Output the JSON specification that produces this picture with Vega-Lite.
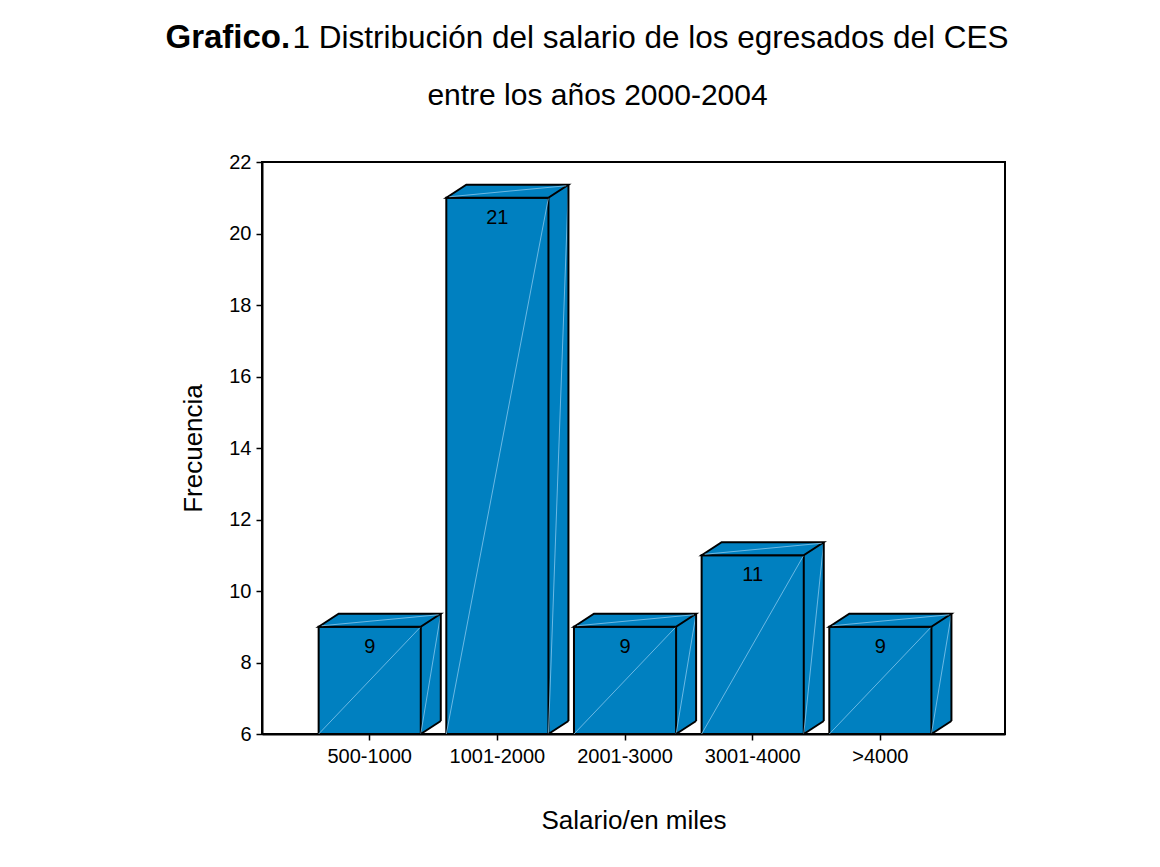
{
  "$schema": "https://vega.github.io/schema/vega-lite/v6.json",
  "width": 743,
  "height": 572,
  "autosize": "none",
  "padding": {"left": 262, "top": 162, "right": 155, "bottom": 133},
  "background": "white",
  "title": {
    "text": "entre los años 2000-2004",
    "font": "Liberation Sans",
    "fontSize": 30,
    "fontWeight": "normal",
    "color": "black",
    "anchor": "middle",
    "frame": "group",
    "baseline": "alphabetic",
    "offset": -114,
    "dx": -36
  },
  "data": {
    "values": [
      {"salario": "500-1000", "frecuencia": 9},
      {"salario": "1001-2000", "frecuencia": 21},
      {"salario": "2001-3000", "frecuencia": 9},
      {"salario": "3001-4000", "frecuencia": 11},
      {"salario": ">4000", "frecuencia": 9}
    ]
  },
  "encoding": {
    "x": {
      "field": "salario", "type": "nominal", "sort": null, "axis": null,
      "scale": {"paddingInner": 0.2, "paddingOuter": 0.51, "align": 0.435}
    },
    "y": {
      "field": "frecuencia", "type": "quantitative", "axis": null,
      "scale": {"domain": [6, 22], "zero": false, "nice": false}
    }
  },
  "resolve": {"axis": {"x": "independent", "y": "independent"}},
  "layer": [
    {
      "mark": {"type": "bar", "fill": "#0080C0", "strokeWidth": 0, "xOffset": 20, "yOffset": -13, "y2Offset": -13},
      "encoding": {"y2": {"datum": 6}}
    },
    {
      "mark": {"type": "point", "shape": "M0,0L20,-13L0,-13Z", "size": 4, "filled": true, "fill": "#0080C0", "strokeWidth": 0, "opacity": 1},
      "encoding": {
        "x": {"field": "salario", "type": "nominal", "sort": null, "bandPosition": 1, "axis": null},
        "y": {"datum": 6, "type": "quantitative", "axis": null}
      }
    },
    {
      "mark": {"type": "bar", "fill": "#0080C0", "stroke": "black", "strokeWidth": 2},
      "encoding": {
        "x": {
          "field": "salario", "type": "nominal", "sort": null, "title": "Salario/en miles",
          "axis": {
            "orient": "bottom", "domainColor": "black", "domainWidth": 2, "tickColor": "black", "tickWidth": 1.5,
            "tickSize": 6, "labelFont": "Liberation Sans", "labelFontSize": 20, "labelColor": "black",
            "labelPadding": 6, "labelAngle": 0, "grid": false,
            "titleFont": "Liberation Sans", "titleFontSize": 26, "titleFontWeight": "normal", "titleColor": "black",
            "titleBaseline": "alphabetic", "titleY": 94
          }
        },
        "y": {
          "field": "frecuencia", "type": "quantitative", "title": "Frecuencia",
          "axis": {
            "orient": "left", "values": [6, 8, 10, 12, 14, 16, 18, 20, 22],
            "domainColor": "black", "domainWidth": 2, "tickColor": "black", "tickWidth": 1.5,
            "tickSize": 6, "labelFont": "Liberation Sans", "labelFontSize": 20, "labelColor": "black",
            "labelPadding": 5, "grid": false,
            "titleFont": "Liberation Sans", "titleFontSize": 26, "titleFontWeight": "normal", "titleColor": "black",
            "titleBaseline": "alphabetic", "titleX": -61
          }
        },
        "y2": {"datum": 6}
      }
    },
    {
      "mark": {"type": "rule", "stroke": "#86c6ec", "strokeWidth": 0.8},
      "encoding": {
        "x": {"field": "salario", "type": "nominal", "sort": null, "bandPosition": 0, "axis": null},
        "y": {"datum": 6, "type": "quantitative", "axis": null},
        "x2": {"field": "salario", "bandPosition": 1},
        "y2": {"field": "frecuencia"}
      }
    },
    {
      "mark": {"type": "rule", "stroke": "#86c6ec", "strokeWidth": 0.8, "x2Offset": 20, "y2Offset": -13},
      "encoding": {
        "x": {"field": "salario", "type": "nominal", "sort": null, "bandPosition": 1, "axis": null},
        "y": {"datum": 6, "type": "quantitative", "axis": null},
        "x2": {"field": "salario", "bandPosition": 1},
        "y2": {"field": "frecuencia"}
      }
    },
    {
      "mark": {"type": "point", "shape": "M0,0L20,-13L122,-13L102,0Z", "size": 4, "filled": true, "fill": "#0080C0", "stroke": "black", "strokeWidth": 2, "opacity": 1},
      "encoding": {
        "x": {"field": "salario", "type": "nominal", "sort": null, "bandPosition": 0, "axis": null}
      }
    },
    {
      "mark": {"type": "point", "shape": "M3,-1L120,-12", "size": 4, "filled": false, "stroke": "#86c6ec", "strokeWidth": 0.8, "opacity": 1},
      "encoding": {
        "x": {"field": "salario", "type": "nominal", "sort": null, "bandPosition": 0, "axis": null}
      }
    },
    {
      "mark": {"type": "rule", "stroke": "black", "strokeWidth": 2, "xOffset": 20, "yOffset": -13, "y2Offset": -13},
      "encoding": {
        "x": {"field": "salario", "type": "nominal", "sort": null, "bandPosition": 1, "axis": null},
        "y2": {"datum": 6}
      }
    },
    {
      "mark": {"type": "point", "shape": "M0,0L20,-13", "size": 4, "filled": false, "stroke": "black", "strokeWidth": 2, "opacity": 1},
      "encoding": {
        "x": {"field": "salario", "type": "nominal", "sort": null, "bandPosition": 1, "axis": null},
        "y": {"datum": 6, "type": "quantitative", "axis": null}
      }
    },
    {
      "mark": {"type": "text", "dy": 20, "baseline": "middle", "align": "center", "font": "Liberation Sans", "fontSize": 20, "color": "black"},
      "encoding": {
        "text": {"field": "frecuencia", "type": "quantitative"},
        "x": {
          "field": "salario", "type": "nominal", "sort": null, "title": "Grafico.",
          "axis": {
            "orient": "top", "domain": false, "ticks": false, "labels": false, "grid": false,
            "titleFont": "Liberation Sans", "titleFontSize": 33, "titleFontWeight": "bold", "titleColor": "black",
            "titleAngle": 0, "titleAlign": "left", "titleBaseline": "alphabetic", "titleX": -97, "titleY": -115
          }
        },
        "y": {
          "field": "frecuencia", "type": "quantitative", "title": "1 Distribución del salario de los egresados del CES",
          "axis": {
            "orient": "right", "domain": false, "ticks": false, "labels": false, "grid": false,
            "titleFont": "Liberation Sans", "titleFontSize": 31.5, "titleFontWeight": "normal", "titleColor": "black",
            "titleAngle": 0, "titleAlign": "left", "titleBaseline": "alphabetic", "titleX": -713, "titleY": -115
          }
        }
      }
    }
  ],
  "config": {
    "view": {"stroke": "black", "strokeWidth": 2},
    "font": "Liberation Sans"
  }
}
